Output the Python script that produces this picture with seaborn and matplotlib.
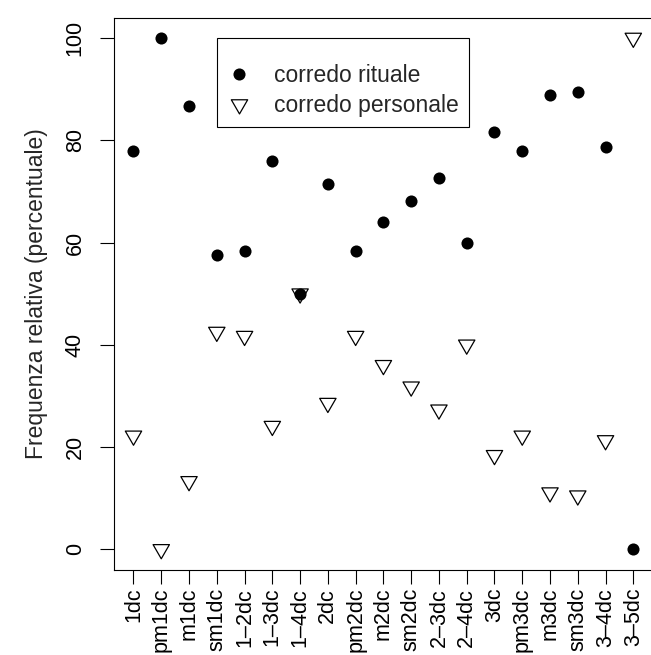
import matplotlib
matplotlib.use("Agg")
import matplotlib.pyplot as plt
import seaborn as sns
import pandas as pd
from matplotlib.lines import Line2D
from matplotlib.path import Path

# ---- data ----
categories = ["1dc", "pm1dc", "m1dc", "sm1dc", "1–2dc", "1–3dc", "1–4dc", "2dc",
              "pm2dc", "m2dc", "sm2dc", "2–3dc", "2–4dc", "3dc", "pm3dc", "m3dc",
              "sm3dc", "3–4dc", "3–5dc"]
rituale = [77.8, 100.0, 86.7, 57.5, 58.3, 75.9, 50.0, 71.4, 58.3, 64.0, 68.2,
           72.7, 60.0, 81.6, 77.8, 88.9, 89.5, 78.7, 0.0]
personale = [22.2, 0.0, 13.3, 42.5, 41.7, 24.1, 50.0, 28.6, 41.7, 36.0, 31.8,
             27.3, 40.0, 18.4, 22.2, 11.1, 10.5, 21.3, 100.0]
yticks = [0, 20, 40, 60, 80, 100]
ylabel = "Frequenza relativa (percentuale)"
legend_labels = ["corredo rituale", "corredo personale"]

sns.set_theme(style="white")
plt.rcParams['font.family'] = ['Liberation Sans', 'DejaVu Sans']

fig = plt.figure(figsize=(6.51, 6.55), dpi=100)
W, H = 651.0, 655.0
left_px, right_px, top_px, bot_px = 113.5, 653.3, 17.5, 569.8
ax = fig.add_axes([left_px / W, 1 - bot_px / H, (right_px - left_px) / W, (bot_px - top_px) / H])

df_r = pd.DataFrame({"cat": categories, "val": rituale})
df_p = pd.DataFrame({"cat": categories, "val": personale})

# open down-pointing triangle (closed outline), centred on its centroid
tri = Path([(-0.866, 0.5), (0.866, 0.5), (0.0, -1.0), (-0.866, 0.5)], closed=True)
dot_ms = 8.7
tri_ms = 13.6

sns.scatterplot(data=df_r, x="cat", y="val", ax=ax, color="black", marker="o",
                s=dot_ms ** 2, edgecolor="black", linewidth=0, zorder=3, legend=False)
sns.scatterplot(data=df_p, x="cat", y="val", ax=ax, marker=tri, s=tri_ms ** 2,
                facecolor="none", edgecolor="black", linewidth=0.9, zorder=4, legend=False)

ax.set_xlim(-0.72, len(categories) - 1 + 0.72)
ax.set_ylim(-4, 104)
ax.set_xticks(range(len(categories)))
ax.set_xticklabels(categories, rotation=90, fontsize=15.5)
ax.set_yticks(yticks)
ax.set_yticklabels([str(v) for v in yticks], rotation=90, va="center", fontsize=15.5)
ax.set_xlabel("")
ax.set_ylabel(ylabel, fontsize=16.5, labelpad=12)

for s in ax.spines.values():
    s.set_color("black")
    s.set_linewidth(0.8)
ax.tick_params(axis="both", which="both", direction="out", length=10, width=0.8,
               color="black", labelcolor="black")
ax.tick_params(axis="x", pad=3, bottom=True)
ax.tick_params(axis="y", pad=10, left=True)
ax.grid(False)

handles = [
    Line2D([], [], marker="o", color="black", linestyle="None", markersize=dot_ms,
           markeredgewidth=0),
    Line2D([], [], marker=tri, linestyle="None", markersize=tri_ms,
           markerfacecolor="none", markeredgecolor="black", markeredgewidth=0.9),
]
leg = ax.legend(handles, legend_labels, loc="upper left",
                bbox_to_anchor=(217 / W, 1 - 38 / H), bbox_transform=fig.transFigure,
                borderaxespad=0, frameon=True, fancybox=False, framealpha=1,
                edgecolor="black", fontsize=16.5, borderpad=0.45, handlelength=1.05,
                handletextpad=0.99, labelspacing=0.3, title=" ", title_fontsize=6.5)
leg.get_frame().set_linewidth(0.8)

fig.savefig("out.png", dpi=100)
